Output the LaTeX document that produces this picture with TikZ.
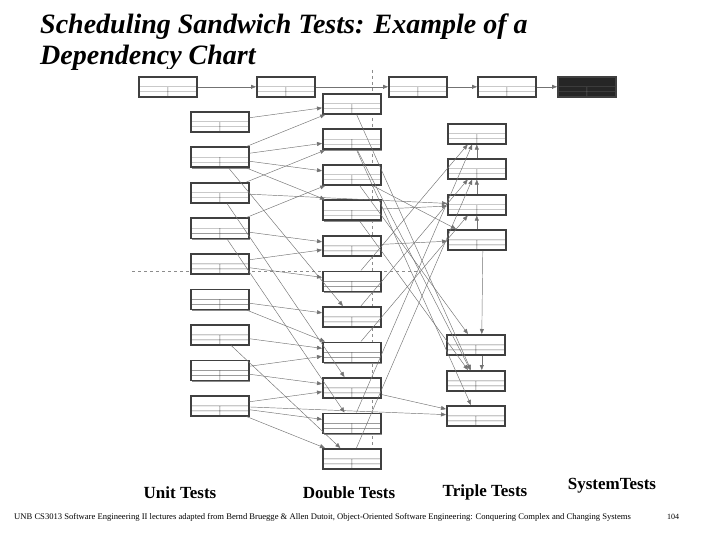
\documentclass[tikz,border=0pt]{standalone}
\usepackage{fontspec}
\setmainfont{Liberation Serif}
\usetikzlibrary{calc,arrows.meta,shadows}
\begin{document}
\begin{tikzpicture}[x=1pt,y=-1pt,
  bx/.style={draw=black!75,line width=1.6pt,fill=white,minimum width=#1,minimum height=20pt,inner sep=0pt,anchor=north west,
    drop shadow={shadow xshift=1.5pt,shadow yshift=-1.5pt,fill=black!45,opacity=1},
    path picture={\draw[black!60,line width=.4pt]
      ($(path picture bounding box.north west)!0.5!(path picture bounding box.south west)$) --
      ($(path picture bounding box.north east)!0.5!(path picture bounding box.south east)$)
      ($(path picture bounding box.north west)!0.75!(path picture bounding box.south west)$) --
      ($(path picture bounding box.north east)!0.75!(path picture bounding box.south east)$)
      ($(path picture bounding box.north)!0.5!(path picture bounding box.south)$) --
      (path picture bounding box.south);}},
  bx/.default=58pt,
  ed/.style={draw=black!55,line width=.45pt,-{Triangle[length=5pt,width=4pt]}},
  lab/.style={font=\bfseries\fontsize{17}{19}\selectfont},
  dsh/.style={draw=black!45,dashed,line width=.5pt}]
\useasboundingbox (0,0) rectangle (720,540);
\node[anchor=north west,font=\bfseries\itshape\fontsize{28}{31}\selectfont,align=left,inner sep=0pt] (title) at (40,14) {Scheduling Sandwich Tests: Example of a\\Dependency Chart};
\fill[white] (130,69) rectangle (620,474);
\draw[dsh] (372,70) -- (372,470);
\draw[dsh] (132,271) -- (420,271);
\node[bx] (a1) at (138,76) {};
\node[bx] (a2) at (256,76) {};
\node[bx] (a3) at (388,76) {};
\node[bx] (a4) at (477,76) {};
\node[bx,fill=black!85] (a5) at (557,76) {};
\draw[ed] (a1) -- (a2); \draw[ed] (a2) -- (a3); \draw[ed] (a3) -- (a4); \draw[ed] (a4) -- (a5);
\foreach \i in {1,...,9}{\node[bx] (u\i) at (190,{111+35.5*(\i-1)}) {};}
\foreach \i in {1,...,11}{\node[bx] (d\i) at (322,{93+35.5*(\i-1)}) {};}
\node[bx] (t1) at (447,123) {};
\node[bx] (t2) at (447,158) {};
\node[bx] (t3) at (447,194) {};
\node[bx] (t4) at (447,229) {};
\node[bx] (t5) at (446,334) {};
\node[bx] (t6) at (446,370) {};
\node[bx] (t7) at (446,405) {};
\draw[ed] (t4.north) -- (t3.south); \draw[ed] (t3.north) -- (t2.south); \draw[ed] (t2.north) -- (t1.south);
\draw[ed] ([xshift=6pt]t4.south) -- ([xshift=6pt]t5.north);
\draw[ed] ([xshift=6pt]t5.south) -- ([xshift=6pt]t6.north);
\draw[ed] (u1) -- (d1);
\draw[ed] (u2) -- (d1); \draw[ed] (u2) -- (d2); \draw[ed] (u2) -- (d3); \draw[ed] (u2) -- (d4);
\draw[ed] (u3) -- (d2); \draw[ed] (u3) -- (t3);
\draw[ed] (u4) -- (d3); \draw[ed] (u4) -- (d5);
\draw[ed] (u5) -- (d5); \draw[ed] (u5) -- (d6);
\draw[ed] (u2) -- (d7); \draw[ed] (u3) -- (d9);
\draw[ed] (u6) -- (d7); \draw[ed] (u6) -- (d8);
\draw[ed] (u7) -- (d8); \draw[ed] (u7) -- (d11);
\draw[ed] (u8) -- (d8); \draw[ed] (u8) -- (d9);
\draw[ed] (u9) -- (d9); \draw[ed] (u9) -- (d10); \draw[ed] (u9) -- (d11); \draw[ed] (u9) -- (t7);
\draw[ed] (u4) -- (d10);
\draw[ed] (d1) -- (t6); \draw[ed] (d2) -- (t7); \draw[ed] (d3) -- (t5);
\draw[ed] (d4) -- (t3); \draw[ed] (d4) -- (t6);
\draw[ed] (d5) -- (t4); \draw[ed] (d6) -- (t1);
\draw[ed] (d7) -- (t2); \draw[ed] (d8) -- (t3); \draw[ed] (d9) -- (t7);
\draw[ed] (d10) -- (t1); \draw[ed] (d11) -- (t2);
\draw[ed] (d3) -- (t4); \draw[ed] (d2) -- (t6);
\node[lab] (l1) at (180,493) {Unit Tests};
\node[lab] (l2) at (349,493) {Double Tests};
\node[lab] (l3) at (485,492) {Triple Tests};
\node[lab] (l4) at (612,486) {SystemTests};
\node[anchor=west,font=\fontsize{8.6}{9}\selectfont,inner sep=0pt] (ft) at (14,517) {UNB CS3013 Software Engineering II lectures adapted from Bernd Bruegge \& Allen Dutoit, Object-Oriented Software Engineering: Conquering Complex and Changing Systems};
\node[font=\fontsize{8}{9}\selectfont,inner sep=0pt] (pg) at (673,517) {104};
\end{tikzpicture}
\end{document}
